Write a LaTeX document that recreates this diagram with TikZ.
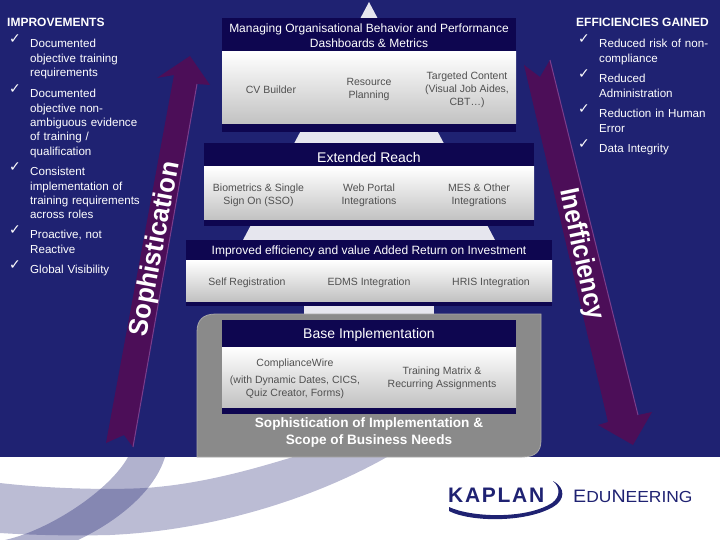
\documentclass[tikz,border=0pt]{standalone}
\usepackage{fontspec}
\setmainfont{Liberation Sans}
\newfontfamily\tickfont{DejaVu Sans}
\definecolor{navybg}{HTML}{1F2272}
\definecolor{bandnavy}{HTML}{0E0650}
\definecolor{plum}{HTML}{4C0E58}
\definecolor{plumlight}{HTML}{7A3E8C}
\definecolor{palegray}{HTML}{E6E6EE}
\definecolor{boxgray}{HTML}{8A8A8A}
\definecolor{bodytext}{HTML}{505050}
\begin{document}
\begin{tikzpicture}[x=1pt,y=-1pt,
    side/.style={text=white,font=\fontsize{11.6}{14.4}\selectfont,align=left,anchor=north west,inner sep=0pt,yshift=-3pt,text width=#1},
    side/.default=118pt,
    head/.style={text=white,font=\fontsize{12}{13}\selectfont\bfseries,anchor=west,inner sep=0pt},
    tick/.style={text=white,font=\tickfont\fontsize{14}{14}\selectfont,inner sep=0pt},
    band/.style={fill=bandnavy,draw=none},
    grad/.style={top color=white,bottom color=black!24,draw=none},
    title/.style={text=white,font=\fontsize{12}{15.5}\selectfont,align=center,inner sep=0pt},
    bigtitle/.style={text=white,font=\fontsize{14}{15.5}\selectfont,align=center,inner sep=0pt},
    item/.style={text=bodytext,font=\fontsize{10.5}{13}\selectfont,align=center,inner sep=0pt,yshift=-1.5pt},
    arrowlabel/.style={text=white,font=\fontsize{27}{27}\selectfont\bfseries,inner sep=0pt},
    rim/.style={draw=plumlight,line width=1pt}]
  \useasboundingbox (0,0) rectangle (720,540);
  \fill[navybg] (0,0) rectangle (720,457);

  % swooshes on the white strip
  \fill[navybg,opacity=.3] (0,483) .. controls (60,490) and (130,490) .. (157,487) .. controls (210,482) and (260,467) .. (293,457) -- (387,457) .. controls (320,495) and (220,530) .. (110,535) .. controls (70,536) and (30,535) .. (0,533) -- cycle;
  \fill[navybg,opacity=.35] (128,457) .. controls (110,490) and (50,530) .. (5,540) -- (78,540) .. controls (120,520) and (155,490) .. (165,457) -- cycle;

  % pyramid behind the bands
  \fill[palegray] (369,2) -- (495,240) -- (243,240) -- cycle;
  \fill[palegray] (304,300) rectangle (434,316);
  \fill[boxgray,draw=boxgray!75!white,line width=.8pt] (541,314) -- (541,440) .. controls (541,452) and (535,457) .. (522,457) -- (197,457) -- (197,332) .. controls (197,320) and (203,314) .. (216,314) -- cycle;

  % top band
  \path[band] (222,18) rectangle (516,132);
  \path[grad] (222,52) rectangle (516,124);
  \node[title] (top) at (369,35.5) {Managing Organisational Behavior and Performance\\Dashboards \& Metrics};
  \node[item] (cv) at (271,88) {CV Builder};
  \node[item] (resource) at (369,88) {Resource\\Planning};
  \node[item] (targeted) at (467,88.5) {Targeted Content\\(Visual Job Aides,\\CBT…)};

  % second band
  \path[band] (204,143) rectangle (534,226);
  \path[grad] (204,167) rectangle (534,220);
  \node[bigtitle] (reach) at (369,157) {Extended Reach};
  \node[item] (bio) at (258.5,193.5) {Biometrics \& Single\\Sign On (SSO)};
  \node[item] (web) at (369,193.5) {Web Portal\\Integrations};
  \node[item] (mes) at (479,193.5) {MES \& Other\\Integrations};

  % third band
  \path[band] (186,240) rectangle (552,306);
  \path[grad] (186,260) rectangle (552,301);
  \node[title] (roi) at (369,251.5) {Improved efficiency and value Added Return on Investment};
  \node[item] (self) at (247,281) {Self Registration};
  \node[item] (edms) at (369,281) {EDMS Integration};
  \node[item] (hris) at (491,281) {HRIS Integration};

  % base band
  \path[band] (222,320) rectangle (516,414);
  \path[grad] (222,347) rectangle (516,407);
  \node[bigtitle] (base) at (369,335) {Base Implementation};
  \node[item] (cw) at (295,362) {ComplianceWire};
  \node[item] (dyn) at (295,385.5) {(with Dynamic Dates, CICS,\\Quiz Creator, Forms)};
  \node[item] (matrix) at (442,377) {Training Matrix \&\\Recurring Assignments};
  \node[title,font=\fontsize{13.6}{17}\selectfont\bfseries] (scope) at (369,432.5) {Sophistication of Implementation \&\\Scope of Business Needs};

  % arrows
  \fill[plum] (190,56) -- (210,85) -- (197,84) -- (133,447) -- (124,435) -- (106,443) -- (174,75) -- (157,78) -- cycle;
  \draw[rim] (197,84) -- (133,447);
  \fill[plum] (550,60) -- (638,415) -- (652,412) -- (633,445) -- (598,425) -- (608,422) -- (524,65) -- (540,77) -- cycle;
  \draw[rim] (550,60) -- (638,415);
  \node[arrowlabel,rotate=79.5,xscale=.95] (soph) at (156,249) {Sophistication};
  \node[arrowlabel,rotate=-78,xscale=.9] (ineff) at (581,254) {Inefficiency};

  % left column
  \node[head] (imp) at (7,22) {IMPROVEMENTS};
  \node[tick] (c1) at (15,39) {✓};
  \node[side] (t1) at (30,36) {Documented\\objective training\\requirements};
  \node[tick] (c2) at (15,89) {✓};
  \node[side] (t2) at (30,86) {Documented\\objective non-\\ambiguous evidence\\of training  /\\qualification};
  \node[tick] (c3) at (15,167) {✓};
  \node[side] (t3) at (30,164) {Consistent\\implementation of\\training requirements\\across roles};
  \node[tick] (c4) at (15,230) {✓};
  \node[side] (t4) at (30,227) {Proactive, not\\Reactive};
  \node[tick] (c5) at (15,265) {✓};
  \node[side] (t5) at (30,262) {Global Visibility};

  % right column
  \node[head] (eff) at (576,22) {EFFICIENCIES GAINED};
  \node[tick] (d1) at (584,39) {✓};
  \node[side=125pt] (e1) at (599,36) {Reduced risk of non-\\compliance};
  \node[tick] (d2) at (584,74) {✓};
  \node[side=125pt] (e2) at (599,71) {Reduced\\Administration};
  \node[tick] (d3) at (584,109) {✓};
  \node[side=125pt] (e3) at (599,106) {Reduction in Human\\Error};
  \node[tick] (d4) at (584,144) {✓};
  \node[side=125pt] (e4) at (599,141) {Data Integrity};

  % logo
  \node[inner sep=0pt,text=navybg,anchor=west,font=\fontsize{21}{21}\selectfont\bfseries] (kaplan) at (448,495) {K\kern1.7pt A\kern1.7pt P\kern1.7pt L\kern1.7pt A\kern1.7pt N};
  \node[inner sep=0pt,text=navybg,anchor=west,xscale=1.09,font=\fontsize{18}{18}\selectfont] (edu) at (573,496.5) {E{\fontsize{16}{16}\selectfont DU}N{\fontsize{16}{16}\selectfont EERING}};
  \fill[navybg] (449,507) .. controls (470,517) and (525,520) .. (552,503) .. controls (560,497) and (561,488) .. (553,481) .. controls (566,488) and (565,500) .. (553,507) .. controls (525,523) and (470,522) .. (449,511) -- cycle;
\end{tikzpicture}
\end{document}
